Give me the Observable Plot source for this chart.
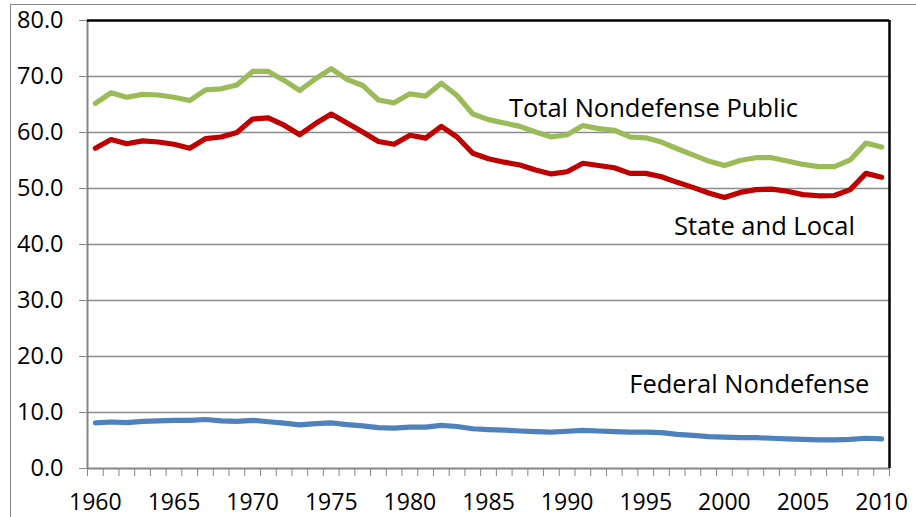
<!DOCTYPE html>
<html>
<head>
<meta charset="utf-8">
<script src="https://cdn.jsdelivr.net/npm/d3@7"></script>
<script src="https://cdn.jsdelivr.net/npm/@observablehq/plot@0.6"></script>
<style>
  html, body { margin: 0; padding: 0; background: #fff; }
  #wrap { position: relative; width: 916px; height: 517px; overflow: hidden; }
  .bl { position: absolute; left: 10px; top: 4px; width: 1px; height: 600px; background: #8a8a8a; }
  .bt { position: absolute; left: 10px; top: 4px; width: 1000px; height: 1px; background: #8a8a8a; }
  #chart { position: absolute; left: 0; top: 0; }
</style>
</head>
<body>
<div id="wrap"><div class="bl"></div><div class="bt"></div><div id="chart"></div></div>
<script>
const years = d3.range(1960, 2011);
const totalNondefense = [65.2, 67.1, 66.3, 66.8, 66.7, 66.3, 65.7, 67.6, 67.8, 68.5,
  70.9, 70.9, 69.3, 67.5, 69.6, 71.4, 69.5, 68.4, 65.8, 65.3,
  66.9, 66.5, 68.8, 66.6, 63.3, 62.3, 61.7, 61.1, 60.1, 59.2,
  59.6, 61.25, 60.7, 60.4, 59.2, 59.05, 58.3, 57.1, 56.0, 54.9,
  54.1, 55.0, 55.5, 55.5, 54.9, 54.3, 53.9, 53.9, 55.1, 58.1, 57.4];
const stateLocal = [57.2, 58.75, 58.0, 58.5, 58.3, 57.9, 57.2, 58.9, 59.2, 60.0,
  62.4, 62.6, 61.3, 59.6, 61.6, 63.3, 61.7, 60.1, 58.4, 57.9,
  59.5, 59.0, 61.1, 59.2, 56.3, 55.3, 54.7, 54.2, 53.3, 52.6,
  53.0, 54.5, 54.1, 53.7, 52.7, 52.7, 52.1, 51.1, 50.2, 49.2,
  48.4, 49.3, 49.8, 49.9, 49.5, 48.9, 48.7, 48.75, 49.8, 52.7, 52.0];
const federalNondefense = [8.15, 8.3, 8.2, 8.4, 8.5, 8.6, 8.6, 8.75, 8.5, 8.4,
  8.6, 8.35, 8.1, 7.8, 8.0, 8.15, 7.85, 7.6, 7.3, 7.2,
  7.4, 7.4, 7.7, 7.5, 7.1, 6.95, 6.85, 6.7, 6.6, 6.5,
  6.65, 6.8, 6.7, 6.6, 6.5, 6.5, 6.4, 6.1, 5.9, 5.7,
  5.6, 5.5, 5.5, 5.4, 5.3, 5.2, 5.1, 5.1, 5.2, 5.4, 5.3];
const yTicks = [0, 10, 20, 30, 40, 50, 60, 70, 80];
const xLabelYears = [1960, 1965, 1970, 1975, 1980, 1985, 1990, 1995, 2000, 2005, 2010];
const seriesNames = ["Federal Nondefense", "State and Local", "Total Nondefense Public"];
const seriesColors = ["#4F81BD", "#C00000", "#9BBB59"];
const labelNames = ["Total Nondefense Public", "State and Local", "Federal Nondefense"];
const labelYears = [1986.3, 1996.8, 1993.95];
const labelValues = [64.2, 43.1, 14.9];

const seriesValues = [federalNondefense, stateLocal, totalNondefense];
const rows = seriesNames.flatMap((name, s) =>
  years.map((year, i) => ({series: name, year, value: seriesValues[s][i]})));
const labels = labelNames.map((name, i) => ({name, year: labelYears[i], value: labelValues[i]}));
const boundaries = d3.range(years[0] - 0.5, years[years.length - 1] + 1, 1);
const xMin = years[0] - 0.5, xMax = years[years.length - 1] + 0.5;
const fmtY = d3.format(".1f");

const chart = Plot.plot({
  width: 916,
  height: 517,
  marginLeft: 87,
  marginRight: 27,
  marginTop: 20,
  marginBottom: 49,
  style: {fontFamily: "'Open Sans', Lato, sans-serif", fontSize: "23px", background: "transparent", color: "#000", overflow: "visible"},
  x: {type: "linear", domain: [xMin, xMax]},
  y: {type: "linear", domain: [0, 80]},
  color: {domain: seriesNames, range: seriesColors},
  marks: [
    Plot.ruleY(yTicks.filter(d => d > 0 && d < 80), {stroke: "#8c8c8c", strokeWidth: 1.3}),
    Plot.axisY(yTicks, {tickSize: 8, tickFormat: () => "", stroke: "#868686", label: null}),
    Plot.axisX(boundaries, {tickSize: 8, tickFormat: () => "", stroke: "#868686", label: null}),
    Plot.text(yTicks, {y: d => d, frameAnchor: "left", text: d => fmtY(d), dx: -24, textAnchor: "end", fill: "#000", fontSize: 23.5}),
    Plot.text(xLabelYears, {x: d => d, frameAnchor: "bottom", text: d => String(d), dy: 25.5, lineAnchor: "top", textAnchor: "middle", fill: "#000", fontSize: 23}),
    Plot.ruleX([xMin], {stroke: "#868686", strokeWidth: 2}),
    Plot.ruleY([0], {stroke: "#868686", strokeWidth: 2}),
    Plot.ruleY([80], {stroke: "#000", strokeWidth: 2.5}),
    Plot.ruleX([xMax], {stroke: "#000", strokeWidth: 2.5}),
    Plot.line(rows, {x: "year", y: "value", z: "series", stroke: "series", strokeWidth: 5.2, strokeLinejoin: "round", strokeLinecap: "round"}),
    Plot.text(labels, {x: "year", y: "value", text: "name", textAnchor: "start", fill: "#000", fontSize: 25.5})
  ]
});
document.getElementById("chart").appendChild(chart);
</script>
</body>
</html>
